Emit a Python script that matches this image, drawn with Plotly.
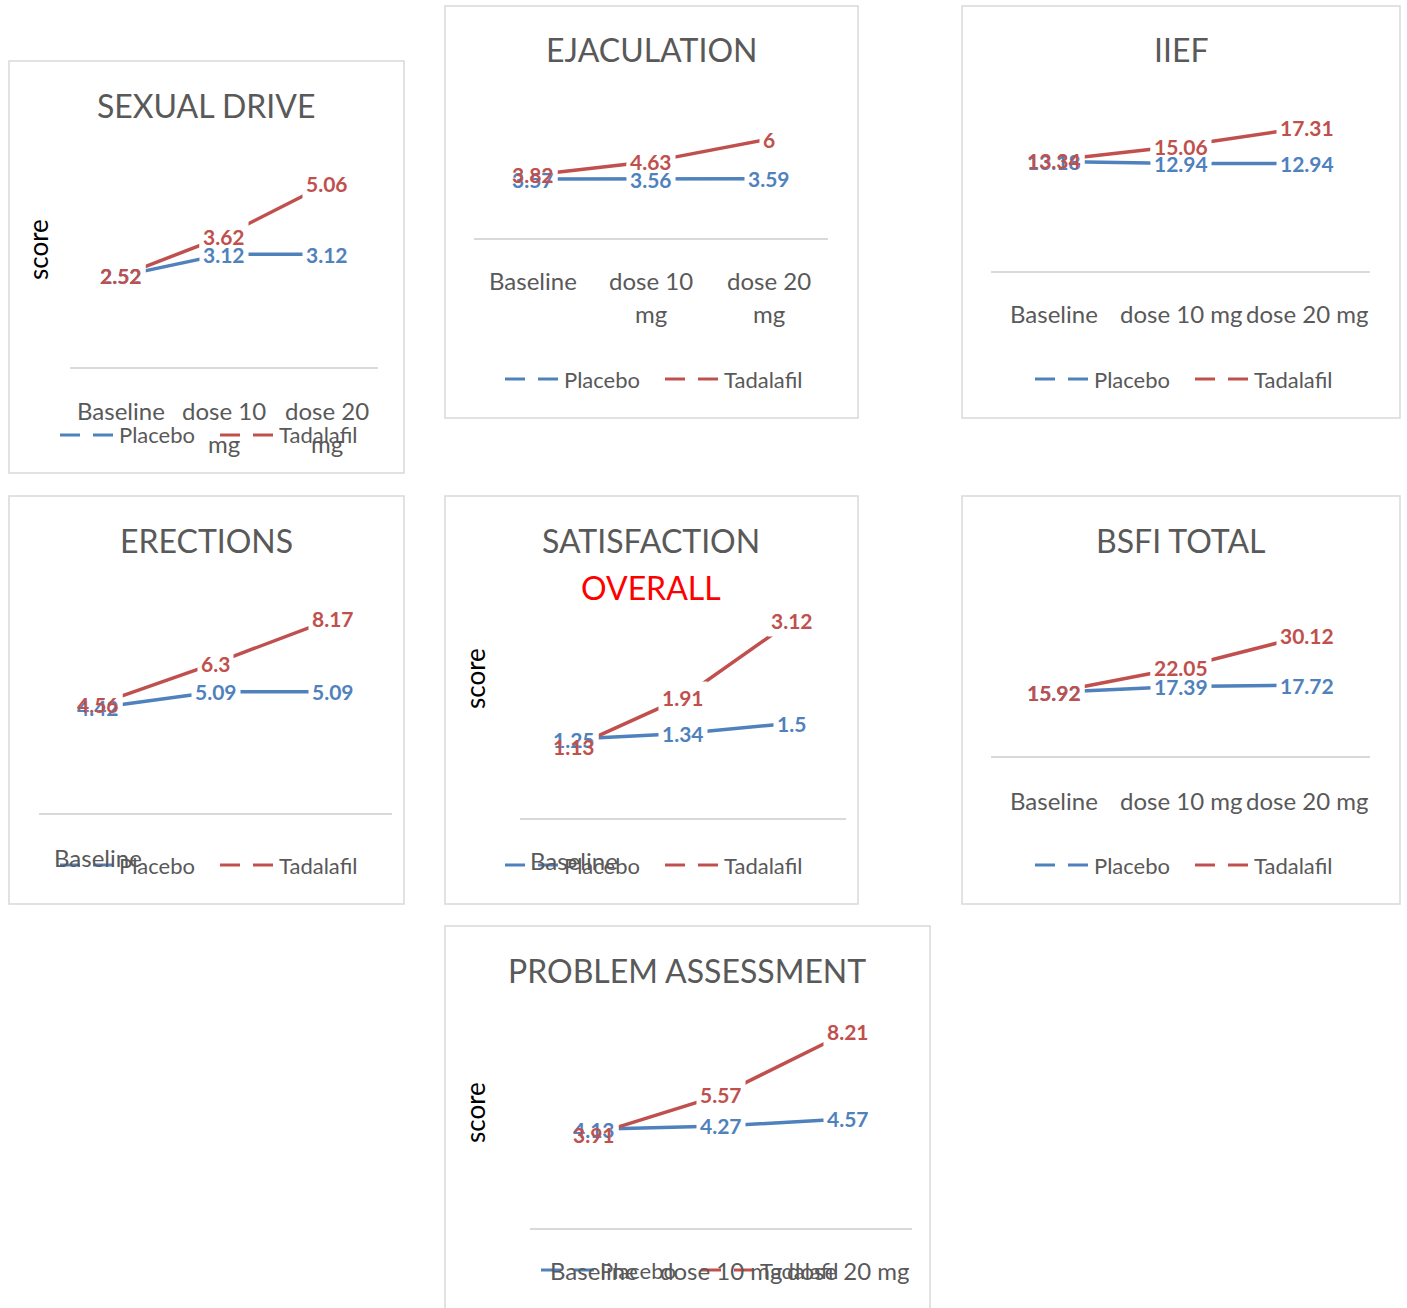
import plotly.graph_objects as go

W, H = 1407, 1308

categories = ["Baseline", "dose 10 mg", "dose 20 mg"]
series_names = ["Placebo", "Tadalafil"]
series_colors = ["#4F81BD", "#C0504D"]

sexual_drive_placebo = [2.52, 3.12, 3.12]
sexual_drive_tadalafil = [2.52, 3.62, 5.06]
ejaculation_placebo = [3.57, 3.56, 3.59]
ejaculation_tadalafil = [3.82, 4.63, 6]
iief_placebo = [13.18, 12.94, 12.94]
iief_tadalafil = [13.34, 15.06, 17.31]
erections_placebo = [4.42, 5.09, 5.09]
erections_tadalafil = [4.56, 6.3, 8.17]
satisfaction_placebo = [1.25, 1.34, 1.5]
satisfaction_tadalafil = [1.13, 1.91, 3.12]
bsfi_placebo = [15.92, 17.39, 17.72]
bsfi_tadalafil = [15.92, 22.05, 30.12]
problem_placebo = [4.13, 4.27, 4.57]
problem_tadalafil = [3.91, 5.57, 8.21]

FONT = "Lato"
GRAY = "#595959"
BORDER = "#D9D9D9"

# layout of each panel (pixels)
panels = [
    dict(title=[("SEXUAL DRIVE", GRAY, 105)], tx=206, box=(9, 61, 404, 473),
         px=(70, 378), y0=367, ytop=150, ymax=6, data=(sexual_drive_placebo, sexual_drive_tadalafil),
         score=(38, 250),
         ticks=[("Baseline", 0, 410), ("dose 10", 1, 410), ("mg", 1, 444), ("dose 20", 2, 410), ("mg", 2, 444)],
         legend=(60, 220, 435)),
    dict(title=[("EJACULATION", GRAY, 50)], tx=651, box=(445, 6, 858, 418),
         px=(474, 828), y0=238, ytop=106, ymax=8, data=(ejaculation_placebo, ejaculation_tadalafil),
         score=None,
         ticks=[("Baseline", 0, 281), ("dose 10", 1, 281), ("mg", 1, 314), ("dose 20", 2, 281), ("mg", 2, 314)],
         legend=(505, 665, 379)),
    dict(title=[("IIEF", GRAY, 50)], tx=1181, box=(962, 6, 1400, 418),
         px=(991, 1370), y0=271, ytop=105, ymax=20, data=(iief_placebo, iief_tadalafil),
         score=None,
         ticks=[("Baseline", 0, 313), ("dose 10 mg", 1, 313), ("dose 20 mg", 2, 313)],
         legend=(1035, 1195, 379)),
    dict(title=[("ERECTIONS", GRAY, 540)], tx=207, box=(9, 496, 404, 904),
         px=(39, 392), y0=813, ytop=575, ymax=10, data=(erections_placebo, erections_tadalafil),
         score=None,
         ticks=[("Baseline", 0, 857)],
         legend=(60, 220, 865)),
    dict(title=[("SATISFACTION", GRAY, 540), ("OVERALL", "#FF0000", 587)], tx=651, box=(445, 496, 858, 904),
         px=(520, 846), y0=818, ytop=597, ymax=3.5, data=(satisfaction_placebo, satisfaction_tadalafil),
         score=(475, 678),
         ticks=[("Baseline", 0, 860)],
         legend=(505, 665, 865)),
    dict(title=[("BSFI TOTAL", GRAY, 540)], tx=1181, box=(962, 496, 1400, 904),
         px=(991, 1370), y0=756, ytop=616, ymax=35, data=(bsfi_placebo, bsfi_tadalafil),
         score=None,
         ticks=[("Baseline", 0, 800), ("dose 10 mg", 1, 800), ("dose 20 mg", 2, 800)],
         legend=(1035, 1195, 865)),
    dict(title=[("PROBLEM ASSESSMENT", GRAY, 970)], tx=687, box=(445, 926, 930, 1315),
         px=(530, 912), y0=1228, ytop=989, ymax=10, data=(problem_placebo, problem_tadalafil),
         score=(475, 1112),
         ticks=[("Baseline", 0, 1270), ("dose 10 mg", 1, 1270), ("dose 20 mg", 2, 1270)],
         legend=(541, 701, 1270)),
]


def fx(p):
    return p / W


def fy(p):
    return 1 - p / H


fig = go.Figure()
layout = dict(width=W, height=H, margin=dict(l=0, r=0, t=0, b=0), showlegend=False,
              paper_bgcolor="white", plot_bgcolor="rgba(0,0,0,0)",
              font=dict(family=FONT, color=GRAY))
shapes = []
boxes = []
texts = []
others = []

for i, p in enumerate(panels):
    n = i + 1
    xa = "x" if n == 1 else f"x{n}"
    ya = "y" if n == 1 else f"y{n}"
    layout["xaxis" if n == 1 else f"xaxis{n}"] = dict(
        domain=[fx(p["px"][0]), fx(p["px"][1])], anchor=ya, type="category",
        range=[-0.5, 2.5], showline=True, linecolor=BORDER, linewidth=1.5,
        showticklabels=False, showgrid=False, ticks="", zeroline=False, fixedrange=True)
    layout["yaxis" if n == 1 else f"yaxis{n}"] = dict(
        domain=[fy(p["y0"]), fy(p["ytop"])], anchor=xa, range=[0, p["ymax"]],
        visible=False, showgrid=False, zeroline=False, fixedrange=True)

    # panel border
    x0, y0b, x1, y1b = p["box"]
    shapes.append(dict(type="rect", xref="paper", yref="paper", x0=fx(x0), x1=fx(x1),
                       y0=fy(y1b), y1=fy(y0b), line=dict(color=BORDER, width=1.5),
                       fillcolor="rgba(0,0,0,0)", layer="below"))

    for s, vals in enumerate(p["data"]):
        fig.add_trace(go.Scatter(x=categories, y=vals, mode="lines", name=series_names[s],
                                 line=dict(color=series_colors[s], width=3.5),
                                 xaxis=xa, yaxis=ya, hoverinfo="skip"))
        for c, v in zip(categories, vals):
            lbl = f"{v:g}"
            boxes.append(dict(x=c, y=v, xref=xa, yref=ya, text=lbl, showarrow=False,
                              font=dict(family=FONT, size=21, color="rgba(0,0,0,0)", weight="bold"),
                              bgcolor="white", borderpad=3, xanchor="center", yanchor="middle"))
            texts.append(dict(x=c, y=v, xref=xa, yref=ya, text=lbl, showarrow=False,
                              font=dict(family=FONT, size=21, color=series_colors[s], weight="bold"),
                              xanchor="center", yanchor="middle"))

    # titles
    for t, col, ty in p["title"]:
        others.append(dict(x=fx(p["tx"]), y=fy(ty), xref="paper", yref="paper", text=t,
                           showarrow=False, xanchor="center", yanchor="middle",
                           font=dict(family=FONT, size=32, color=col)))
    # score
    if p["score"]:
        sx, sy = p["score"]
        others.append(dict(x=fx(sx), y=fy(sy), xref="paper", yref="paper", text="score",
                           showarrow=False, textangle=-90, xanchor="center", yanchor="middle",
                           font=dict(family=FONT, size=26, color="#000000")))
    # category labels
    for t, ci, ty in p["ticks"]:
        others.append(dict(x=categories[ci], y=fy(ty), xref=xa, yref="paper", text=t,
                           showarrow=False, xanchor="center", yanchor="middle",
                           font=dict(family=FONT, size=24, color=GRAY)))
    # legend
    bx, rx, ly = p["legend"]
    for s, lx in enumerate((bx, rx)):
        for d in (0, 33):
            shapes.append(dict(type="line", xref="paper", yref="paper",
                               x0=fx(lx + d), x1=fx(lx + d + 20), y0=fy(ly), y1=fy(ly),
                               line=dict(color=series_colors[s], width=3)))
        others.append(dict(x=fx(lx + 57), y=fy(ly), xref="paper", yref="paper",
                           text=series_names[s], showarrow=False, xanchor="left", yanchor="middle",
                           font=dict(family=FONT, size=22, color=GRAY)))

layout["shapes"] = shapes
layout["annotations"] = boxes + texts + others
fig.update_layout(**layout)
fig.write_html("out.html")
